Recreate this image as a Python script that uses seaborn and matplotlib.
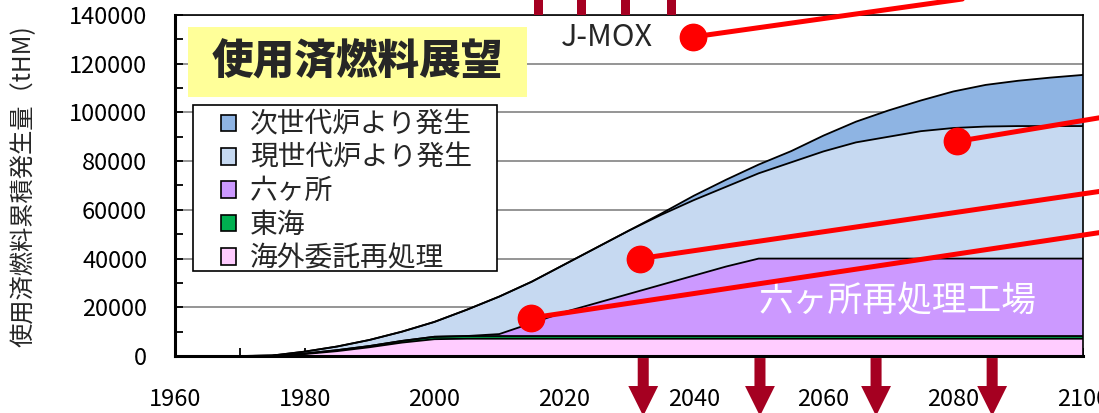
import numpy as np
import pandas as pd
import matplotlib
matplotlib.use("Agg")
import matplotlib.pyplot as plt
import matplotlib.transforms as mtransforms
from matplotlib.patches import Patch, Rectangle, FancyArrow
import seaborn as sns


# --- data (tHM, cumulative by year) ---
years = [1960, 1970, 1975, 1980, 1985, 1990, 1995, 2000, 2005, 2010,
         2015, 2020, 2025, 2030, 2035, 2040, 2045, 2050, 2055, 2060,
         2065, 2070, 2075, 2080, 2085, 2090, 2095, 2100]

overseas = [0, 0, 100, 800, 2000, 3600, 5500, 6900, 7100, 7100,
            7100, 7100, 7100, 7100, 7100, 7100, 7100, 7100, 7100, 7100,
            7100, 7100, 7100, 7100, 7100, 7100, 7100, 7100]

tokai = [0, 0, 0, 200, 400, 500, 700, 1000, 1100, 1100,
         1100, 1100, 1100, 1100, 1100, 1100, 1100, 1100, 1100, 1100,
         1100, 1100, 1100, 1100, 1100, 1100, 1100, 1100]

rokkasho = [0, 0, 0, 0, 0, 0, 0, 0, 0, 800,
            5300, 9800, 13550, 17300, 21050, 24800, 28550, 31800, 31800, 31800,
            31800, 31800, 31800, 31800, 31800, 31800, 31800, 31800]

current_gen = [0, 0, 100, 800, 1500, 2500, 3800, 6100, 10800, 15400,
               17000, 19500, 22750, 26000, 28750, 31000, 32750, 35000, 39500, 44000,
               47700, 50000, 52300, 53600, 54200, 54400, 54400, 54400]

next_gen = [0, 0, 0, 0, 0, 0, 0, 0, 0, 0,
            0, 0, 0, 0, 500, 1800, 2900, 3600, 4600, 6500,
            8500, 10800, 12600, 15000, 17100, 18600, 19900, 21000]

layer_names = ["海外委託再処理", "東海", "六ヶ所", "現世代炉より発生", "次世代炉より発生"]
layer_colors = ["#FFCCFF", "#00B050", "#CC99FF", "#C6D9F1", "#8EB4E3"]

# red callouts: marker position and rise per year of the leader line
callout_years = [2039.9, 2080.6, 2031.7, 2014.9]
callout_values = [131000, 88100, 40000, 15600]
callout_slopes = [375, 442, 389, 400]

top_bar_years = [2016, 2022.7, 2029.5, 2036.5]
down_arrow_years = [2032.2, 2050.2, 2068.1, 2086]


def main():

    sns.set_theme(style="white")
    plt.rcParams["font.family"] = ["Noto Sans CJK JP", "DejaVu Sans"]

    fig = plt.figure(figsize=(10.99, 4.13), dpi=100)
    ax = fig.add_axes([0.1592, 0.138, 0.8262, 0.8257])

    layers = np.array([overseas, tokai, rokkasho, current_gen, next_gen], dtype=float)
    tops = np.cumsum(layers, axis=0)
    bottoms = np.vstack([np.zeros(len(years)), tops[:-1]])

    for bot, top, col in zip(bottoms, tops, layer_colors):
        ax.fill_between(years, bot, top, facecolor=col, edgecolor="none", zorder=2)

    long_df = pd.DataFrame({
        "year": np.tile(years, len(layer_names)),
        "top": tops.ravel(),
        "layer": np.repeat(layer_names, len(years)),
    })
    sns.lineplot(data=long_df, x="year", y="top", units="layer",
                 estimator=None, color="black", linewidth=1.3,
                 ax=ax, zorder=3, legend=False)

    ax.set_xlim(1960, 2100)
    ax.set_ylim(0, 140000)
    ax.set_xticks(range(1960, 2101, 20))
    ax.set_xticks(range(1960, 2101, 10), minor=True)
    ax.set_yticks(range(0, 140001, 20000))
    ax.set_yticks(range(0, 140001, 10000), minor=True)
    ax.set_xlabel("")
    ax.set_ylabel("")

    ax.set_axisbelow(True)
    ax.yaxis.grid(True, which="major", color="#8C8C8C", linewidth=1.3)
    ax.xaxis.grid(False)

    ax.tick_params(axis="both", which="both", direction="in",
                   length=6, width=1.3, color="black",
                   labelsize=17, labelcolor="black")
    ax.tick_params(axis="y", which="major", pad=20)
    ax.tick_params(axis="x", which="major", pad=23)
    ax.tick_params(left=True, bottom=True, which="both")

    for side in ["left", "bottom"]:
        ax.spines[side].set_linewidth(2.2)
    for side in ["top", "right"]:
        ax.spines[side].set_linewidth(1.2)
    for sp in ax.spines.values():
        sp.set_color("black")
        sp.set_zorder(6)

    fig.text(0.021, 0.55, "使用済燃料累積発生量（tHM)", rotation=90,
             ha="center", va="center", fontsize=17.5)

    # title box
    ax.add_patch(Rectangle((0.0143, 0.7595), 0.3734, 0.2053,
                           transform=ax.transAxes, facecolor="#FFFF99",
                           edgecolor="none", zorder=4))
    ax.text(0.2004, 0.862, "使用済燃料展望", transform=ax.transAxes,
            ha="center", va="center", fontsize=30, fontweight="heavy",
            zorder=5)

    ax.text(0.476, 0.933, "J-MOX", transform=ax.transAxes,
            ha="center", va="center", fontsize=22, zorder=5)
    ax.text(0.796, 0.158, "六ヶ所再処理工場", transform=ax.transAxes,
            ha="center", va="center", fontsize=25, color="white", zorder=5)

    # legend box drawn separately so the padding can match
    ax.add_patch(Rectangle((0.0198, 0.2507), 0.3348, 0.4839,
                           transform=ax.transAxes, facecolor="white",
                           edgecolor="black", linewidth=1.2, zorder=4.5))
    handles = [Patch(facecolor=c, edgecolor="black", linewidth=1.2)
               for c in layer_colors[::-1]]
    leg = ax.legend(handles, layer_names[::-1], loc="upper left",
                    bbox_to_anchor=(0.0507, 0.722), borderaxespad=0,
                    fontsize=20, handlelength=0.55, handleheight=0.55,
                    handletextpad=0.5, labelspacing=0.12,
                    borderpad=0, frameon=False)
    leg.set_zorder(5)

    # red callout lines
    for x0, y0, s in zip(callout_years, callout_values, callout_slopes):
        x1 = 2110
        ax.plot([x0, x1], [y0, y0 + s * (x1 - x0)], color="#FF0000",
                linewidth=3.6, clip_on=False, zorder=7)
        ax.plot([x0], [y0], "o", color="#FF0000", markersize=19,
                clip_on=False, zorder=7)

    # dark red arrows
    trans = mtransforms.blended_transform_factory(ax.transData, ax.transAxes)
    for x in top_bar_years:
        ax.add_patch(Rectangle((x - 0.7, 1.0), 1.4, 0.1, transform=trans,
                               facecolor="#A50021", edgecolor="none",
                               clip_on=False, zorder=7))
    for x in down_arrow_years:
        ax.add_patch(FancyArrow(x, -0.006, 0, -0.17, width=1.7,
                                head_width=4.6, head_length=0.088,
                                length_includes_head=True, transform=trans,
                                facecolor="#A50021", edgecolor="none",
                                clip_on=False, zorder=7))

    fig.savefig("out.png", dpi=100)
    plt.close(fig)


if __name__ == "__main__":
    main()
